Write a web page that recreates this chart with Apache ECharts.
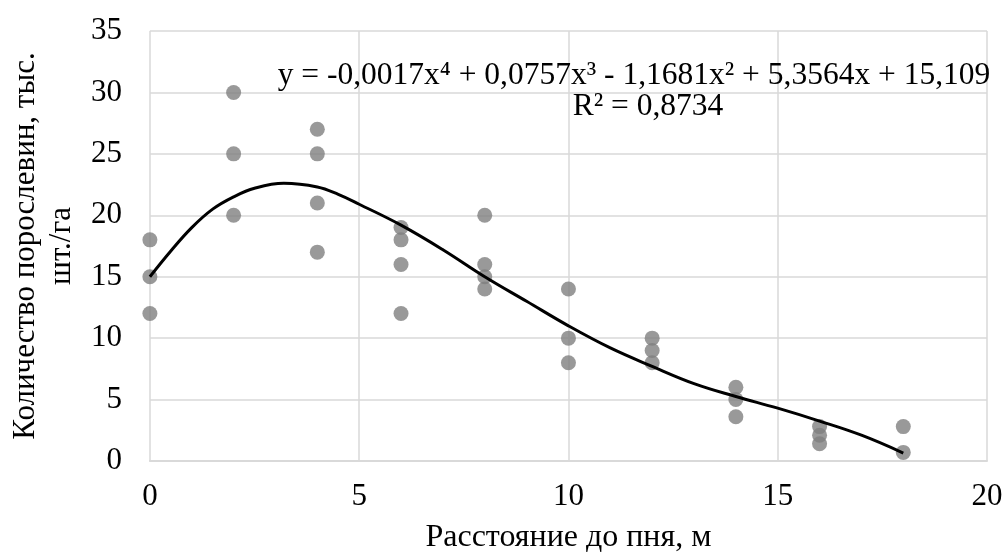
<!DOCTYPE html>
<html><head><meta charset="utf-8">
<script src="https://cdn.jsdelivr.net/npm/echarts@6/dist/echarts.min.js"></script>
<style>html,body{margin:0;padding:0;background:#fff}#c{width:1006px;height:559px}</style>
</head><body><div id="c"></div>
<script>
const pointX = [0,0,0, 2,2,2, 4,4,4,4, 6,6,6,6, 8,8,8,8, 10,10,10, 12,12,12, 14,14,14, 16,16,16, 18,18];
const pointY = [18,15,12, 30,25,20, 27,25,21,17, 19,18,16,12, 20,16,15,14, 14,10,8, 10,9,8, 6,5,3.6, 2.8,2.1,1.4, 2.8,0.7];
const trendX = [0,0.5,1,1.5,2,2.5,3.2,4,4.5,5,6,7,8,9,10,11,12,13,14,15,16,17,18];
const trendY = [15.0,17.1,19.0,20.5,21.5,22.2,22.6,22.3,21.7,20.9,19.2,17.2,15.0,13.0,11.0,9.2,7.7,6.3,5.25,4.3,3.25,2.1,0.65];
const xTicks = [0,5,10,15,20];
const yTicks = [0,5,10,15,20,25,30,35];
const equationText = 'y = -0,0017x⁴ + 0,0757x³ - 1,1681x² + 5,3564x + 15,109';
const r2Text = 'R² = 0,8734';
const xName = 'Расстояние до пня, м';
const yName = 'Количество порослевин, тыс.\nшт./га';

const font = '"Liberation Serif","Times New Roman",serif';
const chart = echarts.init(document.getElementById('c'));
chart.setOption({
  animation:false,
  grid:{left:145,right:19,top:31,bottom:96},
  xAxis:{type:'value',min:xTicks[0],max:xTicks[xTicks.length-1],interval:5,
    name:xName,nameLocation:'middle',nameGap:61,
    nameTextStyle:{fontFamily:font,fontSize:32,color:'#000'},
    axisLine:{show:true,lineStyle:{color:'#d9d9d9',width:2}},axisTick:{show:false},
    axisLabel:{fontFamily:font,fontSize:31,color:'#000',margin:20},
    splitLine:{show:true,lineStyle:{color:'#d9d9d9',width:1.5}}},
  yAxis:{type:'value',min:yTicks[0],max:yTicks[yTicks.length-1],interval:5,
    name:yName,nameLocation:'middle',nameGap:64,nameRotate:90,
    nameTextStyle:{fontFamily:font,fontSize:31,color:'#000',lineHeight:36},
    axisLine:{show:false},axisTick:{show:false},
    axisLabel:{fontFamily:font,fontSize:31,color:'#000',margin:28},
    splitLine:{show:true,lineStyle:{color:'#d9d9d9',width:1.5}}},
  series:[
    {type:'scatter',data:pointX.map((x,i)=>[x,pointY[i]]),symbolSize:15,
     itemStyle:{color:'#808080'},z:2},
    {type:'line',data:trendX.map((x,i)=>[x,trendY[i]]),smooth:0.4,showSymbol:false,
     lineStyle:{color:'#000',width:3},z:3}
  ],
  graphic:[
    {type:'text',x:634,y:76,style:{text:equationText,font:'31.5px '+font,fill:'#000',textAlign:'center',textVerticalAlign:'middle'},z:10},
    {type:'text',x:648,y:107,style:{text:r2Text,font:'31.5px '+font,fill:'#000',textAlign:'center',textVerticalAlign:'middle'},z:10}
  ]
});
</script></body></html>
